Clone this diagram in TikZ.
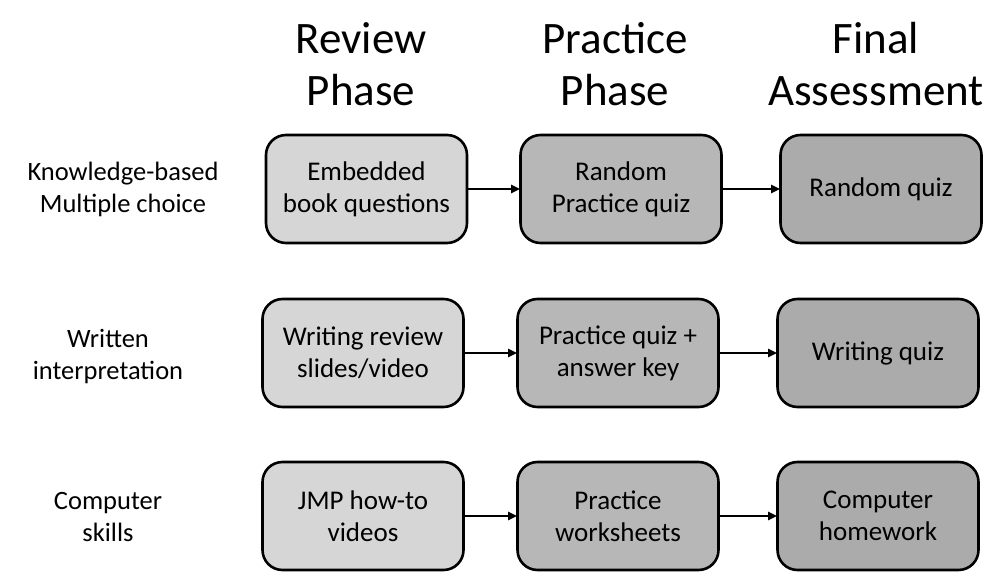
\documentclass[tikz,border=0pt]{standalone}
\usepackage{fontspec}
\setmainfont{Carlito}
\usetikzlibrary{arrows.meta}
\definecolor{revc}{HTML}{D6D6D6}
\definecolor{prac}{HTML}{B7B7B7}
\definecolor{finc}{HTML}{ABABAB}
\tikzset{
  box/.style={draw=black, line width=2.6pt, rounded corners=20pt, minimum width=201pt, minimum height=108pt, align=center, font=\fontsize{27}{32}\selectfont, inner sep=0pt},
  rev/.style={box, fill=revc},
  pra/.style={box, fill=prac},
  fin/.style={box, fill=finc},
  hdr/.style={align=center, font=\fontsize{45}{52}\selectfont},
  lbl/.style={align=center, font=\fontsize{26.5}{32}\selectfont},
  conn/.style={line width=2.2pt, -{Triangle[length=9pt,width=8pt]}, shorten >=-1pt}
}
\begin{document}
\begin{tikzpicture}[x=1pt,y=-1pt]
\useasboundingbox (0,0) rectangle (998,585);
\node[hdr] (h1) at (361,64) {Review\\Phase};
\node[hdr] (h2) at (615,64) {Practice\\Phase};
\node[hdr] (h3) at (876,64) {Final\\Assessment};

\node[lbl] (l1) at (123,189) {Knowledge-based\\Multiple choice};
\node[lbl] (l2) at (108,357) {Written\\interpretation};
\node[lbl] (l3) at (108,517) {Computer\\skills};

\node[rev] (a1) at (366.5,189) {Embedded\\book questions};
\node[pra] (b1) at (621,189) {Random\\Practice quiz};
\node[fin] (c1) at (881,189) {Random quiz};

\node[rev] (a2) at (363,353) {Writing review\\slides/video};
\node[pra] (b2) at (618,353) {Practice quiz +\\answer key};
\node[fin] (c2) at (878,353) {Writing quiz};

\node[rev] (a3) at (363,516) {JMP how-to\\videos};
\node[pra] (b3) at (618,516) {Practice\\worksheets};
\node[fin] (c3) at (878,516) {Computer\\homework};

\draw[conn] (a1) -- (b1);
\draw[conn] (b1) -- (c1);
\draw[conn] (a2) -- (b2);
\draw[conn] (b2) -- (c2);
\draw[conn] (a3) -- (b3);
\draw[conn] (b3) -- (c3);
\end{tikzpicture}
\end{document}
